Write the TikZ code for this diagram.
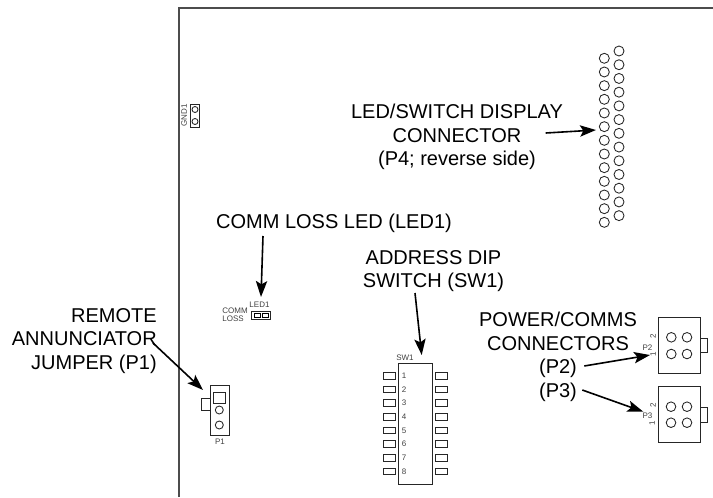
\documentclass[tikz,border=0pt]{standalone}
\usepackage{fontspec}
\setmainfont{Liberation Sans}
\usetikzlibrary{arrows.meta}
\tikzset{
  px/.style={x=0.75pt,y=-0.75pt},
  part/.style={draw=black!85,line width=0.7pt},
  pin/.style={draw=black!85,line width=0.65pt},
  lab/.style={inner sep=0pt,align=center,font=\fontsize{15}{17.6}\selectfont},
  tiny/.style={inner sep=0pt,align=center,text=black!75,font=\fontsize{6}{6.2}\selectfont},
  callout/.style={line width=1.2pt,-{Stealth[length=12pt,width=8.5pt,inset=2.5pt]}},
}
\begin{document}
\begin{tikzpicture}[px]
\useasboundingbox (0,0) rectangle (713,497);
\draw[line width=0.9pt,black!70] (179,497) -- (179,8) -- (713,8);
% GND1
\draw[part] (190.7,104) rectangle (199.3,127);
\draw[pin] (195,109.5) circle (3);
\draw[pin] (195,121.5) circle (3);
\node[tiny,rotate=90] (gnd) at (184,115.5) {GND1};
% P4
\foreach \i in {0,...,12}{
  \draw[pin] (604.3,58.3+13.67*\i) circle (5);
  \draw[pin] (619,51+13.72*\i) circle (5);
}
% labels
\node[lab] (ledsw) at (457,137) {LED/SWITCH DISPLAY\\CONNECTOR\\(P4; reverse side)};
\node[lab] (comm) at (334,223.5) {COMM LOSS LED (LED1)};
\node[lab] (addr) at (433.5,271) {ADDRESS DIP\\SWITCH (SW1)};
\node[lab,align=right,anchor=east] (remote) at (157,341) {REMOTE\\ANNUNCIATOR\\JUMPER (P1)};
\node[lab] (power) at (558,357) {POWER/COMMS\\CONNECTORS\\(P2)\\(P3)};
% LED1
\draw[part] (251.7,311) rectangle (270,319);
\draw[line width=0.6pt] (254,313) rectangle (260,317.5);
\draw[line width=0.6pt] (262,313) rectangle (268,317.5);
\node[tiny] (led1) at (259.5,305) {LED1};
\node[tiny,align=left] (lossl) at (235,315) {COMM\\LOSS};
% P1
\draw[part] (210,385.7) rectangle (229,435.7);
\draw[part] (201.7,398.3) rectangle (210,410);
\draw[pin] (213.3,392.3) rectangle (225.7,403.3);
\draw[pin] (219.3,410) circle (4);
\draw[pin] (219.3,425) circle (4);
\node[tiny] (p1) at (220,442) {P1};
% SW1
\draw[part] (398.3,363.3) rectangle (432.3,484);
\node[tiny] (sw1) at (405,358) {SW1};
\foreach \i [count=\n] in {0,...,7}{
  \draw[pin] (383.3,372.4+13.67*\i) rectangle (395.7,379+13.67*\i);
  \draw[pin] (435,372.4+13.67*\i) rectangle (447,379+13.67*\i);
  \node[tiny] at (404,375.7+13.67*\i) {\n};
}
% P2
\draw[part] (658.3,317.7) rectangle (700.7,373.3);
\draw[part] (700.7,338.3) rectangle (707.3,352.7);
\foreach \x in {671.3,687}\foreach \y in {337.3,354}{\draw[pin] (\x,\y) circle (4.8);}
\node[tiny,rotate=90] (p2b) at (653,336.5) {2};
\node[tiny] (p2) at (647.5,348) {P2};
\node[tiny,rotate=90] (p2a) at (653,354.5) {1};
% P3
\draw[part] (658.3,386.7) rectangle (700.7,442.7);
\draw[part] (700.7,407.3) rectangle (707.3,422.3);
\foreach \x in {671,687}\foreach \y in {406.7,422.7}{\draw[pin] (\x,\y) circle (4.8);}
\node[tiny,rotate=90] (p3b) at (653,405.5) {2};
\node[tiny] (p3) at (647.5,416) {P3};
\node[tiny,rotate=90] (p3a) at (652,423.5) {1};
% callouts
\coordinate (a1s) at (545.7,133); \coordinate (a1e) at (596,130);
\coordinate (a2s) at (263,236); \coordinate (a2e) at (261,297);
\coordinate (a3s) at (415,293); \coordinate (a3e) at (421.7,355);
\coordinate (a4s) at (153,343); \coordinate (a4e) at (203,390);
\coordinate (a5s) at (584.3,366); \coordinate (a5e) at (650,355);
\coordinate (a6s) at (582.3,390); \coordinate (a6e) at (643.3,411.7);
\foreach \i in {1,...,6}{\draw[callout] (a\i s) -- (a\i e);}
\end{tikzpicture}
\end{document}
